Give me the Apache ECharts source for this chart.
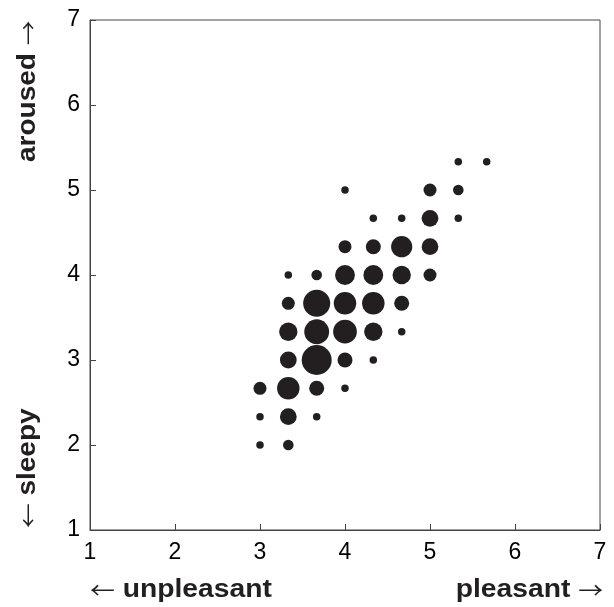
<!DOCTYPE html>
<html>
<head>
<meta charset="utf-8">
<script src="https://cdn.jsdelivr.net/npm/echarts@6/dist/echarts.min.js"></script>
<style>html,body{margin:0;padding:0;background:#fff;}#c{width:614px;height:607px;}</style>
</head>
<body>
<div id="c"></div>
<script>
// x (pleasantness), y (arousal), count
const xValues = [5.333,5.667, 4,5,5.333, 4.333,4.667,5,5.333, 4,4.333,4.667,5, 3.333,3.667,4,4.333,4.667,5, 3.333,3.667,4,4.333,4.667, 3.333,3.667,4,4.333,4.667, 3.333,3.667,4,4.333, 3,3.333,3.667,4, 3,3.333,3.667, 3,3.333];
const yValues = [5.333,5.333, 5,5,5, 4.667,4.667,4.667,4.667, 4.333,4.333,4.333,4.333, 4,4,4,4,4,4, 3.667,3.667,3.667,3.667,3.667, 3.333,3.333,3.333,3.333,3.333, 3,3,3,3, 2.667,2.667,2.667,2.667, 2.333,2.333,2.333, 2,2];
const counts  = [1,1, 1,3,2, 1,1,5,1, 3,4,8,5, 1,2,7,7,6,3, 3,13,9,9,4, 6,11,10,6,1, 5,16,4,1, 3,9,4,1, 1,5,1, 1,2];
const xTicks = [1,2,3,4,5,6,7];
const yTicks = [1,2,3,4,5,6,7];

const data = xValues.map((x,i)=>[x, yValues[i], counts[i]]);
const chart = echarts.init(document.getElementById('c'), null, {renderer:'canvas'});
const fontFam = '"Liberation Sans", Arial, sans-serif';
const rich = {
  a:{fontFamily:'"Noto Sans CJK JP", "DejaVu Sans", sans-serif', fontSize:22, fontWeight:'normal', fill:'#231f20'},
  b:{fontFamily:fontFam, fontSize:25, fontWeight:'bold', fill:'#231f20'}
};
chart.setOption({
  animation:false,
  backgroundColor:'#fff',
  grid:{left:90, right:14, top:20, bottom:77, show:true, borderColor:'#444', borderWidth:1},
  xAxis:{type:'value', min:xTicks[0], max:xTicks[xTicks.length-1], interval:1,
    axisLine:{show:true, lineStyle:{color:'#444', width:1}},
    axisTick:{show:true, inside:true, length:6, lineStyle:{color:'#444'}},
    splitLine:{show:false},
    axisLabel:{color:'#000', fontSize:23, fontFamily:fontFam, margin:11}},
  yAxis:{type:'value', min:yTicks[0], max:yTicks[yTicks.length-1], interval:1,
    axisLine:{show:true, lineStyle:{color:'#444', width:1}},
    axisTick:{show:true, inside:true, length:6, lineStyle:{color:'#444'}},
    splitLine:{show:false},
    axisLabel:{color:'#000', fontSize:23, fontFamily:fontFam, margin:10}},
  series:[{type:'scatter', data:data, symbol:'circle',
    symbolSize:(v)=>7.5*Math.sqrt(v[2]),
    itemStyle:{color:'#231f20', opacity:1}}],
  graphic:[
    {type:'text', x:90, y:590, scaleX:1.13, style:{text:'{a|←}{b| unpleasant}', rich:rich, textAlign:'left', textVerticalAlign:'middle'}},
    {type:'text', x:603, y:590, scaleX:1.13, style:{text:'{b|pleasant }{a|→}', rich:rich, textAlign:'right', textVerticalAlign:'middle'}},
    {type:'text', x:28, y:162, rotation:Math.PI/2, scaleX:1.12, style:{text:'{b|aroused }{a|→}', rich:rich, textAlign:'left', textVerticalAlign:'middle'}},
    {type:'text', x:28, y:528, rotation:Math.PI/2, scaleX:1.12, style:{text:'{a|←}{b| sleepy}', rich:rich, textAlign:'left', textVerticalAlign:'middle'}}
  ]
});
</script>
</body>
</html>
